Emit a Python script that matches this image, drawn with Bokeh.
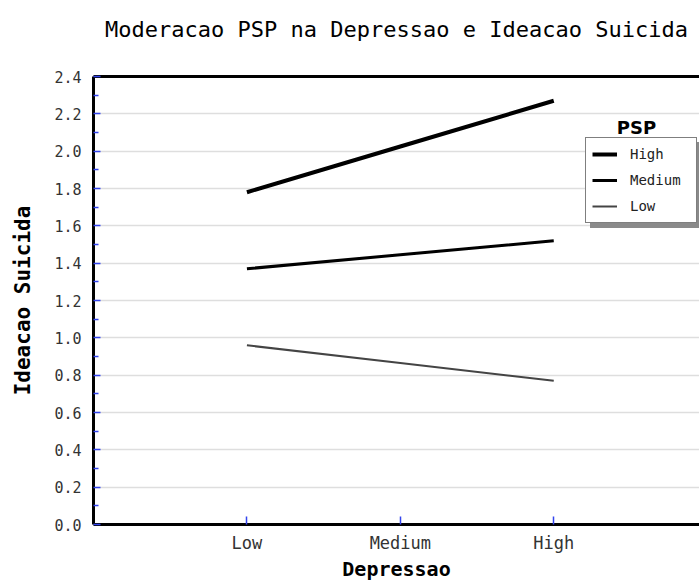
from bokeh.plotting import figure
from bokeh.models import (Range1d, LinearAxis, FixedTicker,
                          PrintfTickFormatter, Legend, LegendItem, Label, Title)
from bokeh.embed import file_html
from bokeh.resources import INLINE

# ---- data ----
depressao_levels = ["Low", "Medium", "High"]
depressao_pos = [1, 2, 3]
psp_high = [1.78, 2.025, 2.27]
psp_medium = [1.37, 1.445, 1.52]
psp_low = [0.96, 0.865, 0.77]
y_major_ticks = [0.0, 0.2, 0.4, 0.6, 0.8, 1.0, 1.2, 1.4, 1.6, 1.8, 2.0, 2.2, 2.4]
y_minor_ticks = [0.1, 0.3, 0.5, 0.7, 0.9, 1.1, 1.3, 1.5, 1.7, 1.9, 2.1, 2.3]

MONO = "DejaVu Sans Mono"

p = figure(width=699, height=583, output_backend="svg", toolbar_location=None,
           x_range=Range1d(0, 3.95), y_range=Range1d(0, 2.4),
           min_border_left=93, min_border_top=76, min_border_right=0, min_border_bottom=0)
p.title = Title(text="Moderacao PSP na Depressao e Ideacao Suicida", align="center",
                text_font=MONO, text_font_size="22px", text_font_style="normal",
                text_color="black", standoff=10)
p.outline_line_color = None
p.background_fill_color = "white"
p.border_fill_color = "white"

r_high = p.line(depressao_pos, psp_high, line_color="black", line_width=4)
r_med = p.line(depressao_pos, psp_medium, line_color="black", line_width=3)
r_low = p.line(depressao_pos, psp_low, line_color="#444444", line_width=2)

# x axis
xa = p.xaxis[0]
xa.ticker = FixedTicker(ticks=depressao_pos)
xa.major_label_overrides = {k: v for k, v in zip(depressao_pos, depressao_levels)}
xa.axis_label = "Depressao"
xa.axis_label_text_font = MONO
xa.axis_label_text_font_size = "20px"
xa.axis_label_text_font_style = "bold"
xa.axis_label_text_color = "black"
xa.axis_label_standoff = 1
xa.major_label_text_font = MONO
xa.major_label_text_font_size = "17px"
xa.major_label_text_color = "#333333"
xa.major_label_standoff = 8
xa.axis_line_color = "black"
xa.axis_line_width = 3
xa.major_tick_in = 8
xa.major_tick_out = 0
xa.major_tick_line_color = "#3344ee"
xa.major_tick_line_width = 1.5
xa.minor_tick_line_color = None

# y axis
ya = p.yaxis[0]
ya.ticker = FixedTicker(ticks=y_major_ticks, minor_ticks=y_minor_ticks)
ya.formatter = PrintfTickFormatter(format="%.1f")
ya.axis_label = "Ideacao Suicida"
ya.axis_label_text_font = MONO
ya.axis_label_text_font_size = "21px"
ya.axis_label_text_font_style = "bold"
ya.axis_label_text_color = "black"
ya.axis_label_standoff = 16
ya.major_label_text_font = MONO
ya.major_label_text_font_size = "15px"
ya.major_label_text_color = "#333333"
ya.major_label_standoff = 12
ya.axis_line_color = "black"
ya.axis_line_width = 3
ya.major_tick_in = 7
ya.major_tick_out = 0
ya.minor_tick_in = 5
ya.minor_tick_out = 0
ya.major_tick_line_color = "#3344ee"
ya.minor_tick_line_color = "#3344ee"
ya.major_tick_line_width = 1.5
ya.minor_tick_line_width = 1.5

# top border line (an invisible tick gives the panel height that lifts the title)
top = LinearAxis(ticker=FixedTicker(ticks=[depressao_pos[1]]), axis_line_color="black",
                 axis_line_width=3, major_tick_in=0, major_tick_out=30,
                 minor_tick_in=0, minor_tick_out=0,
                 major_tick_line_color=None, minor_tick_line_color=None,
                 major_label_overrides={depressao_pos[1]: ""}, major_label_standoff=0,
                 major_label_text_font_size="1px")
p.add_layout(top, "above")

p.xgrid.grid_line_color = None
p.ygrid.grid_line_color = "#dedede"
p.ygrid.grid_line_width = 1.5

legend_items = [LegendItem(label="High", renderers=[r_high]),
                LegendItem(label="Medium", renderers=[r_med]),
                LegendItem(label="Low", renderers=[r_low])]

common = dict(glyph_width=25, label_width=60, label_standoff=13, padding=6, margin=0,
              label_text_font=MONO, label_text_font_size="14px")

# drop shadow: one blank item sized like the 3-row legend
shadow = Legend(items=[LegendItem(label=" ", renderers=[r_low])], location=(497, 296),
                glyph_height=72, label_height=72, spacing=0,
                background_fill_color="#8a8a8a", background_fill_alpha=1.0,
                border_line_color="#8a8a8a", label_text_color="#8a8a8a", **common)
legend = Legend(items=legend_items, location=(492, 301), glyph_height=20, label_height=20,
                spacing=6, background_fill_color="white", background_fill_alpha=1.0,
                border_line_color="black", border_line_width=1.5,
                label_text_color="#222222", **common)
p.add_layout(shadow, "center")
p.add_layout(legend, "center")

psp_title = Label(x=543, y=397, x_units="screen", y_units="screen", text="PSP",
                  text_font="DejaVu Sans", text_font_size="18px", text_font_style="bold",
                  text_align="center", text_baseline="alphabetic", text_color="black")
p.add_layout(psp_title)

open("out.html", "w").write(file_html(p, INLINE))
